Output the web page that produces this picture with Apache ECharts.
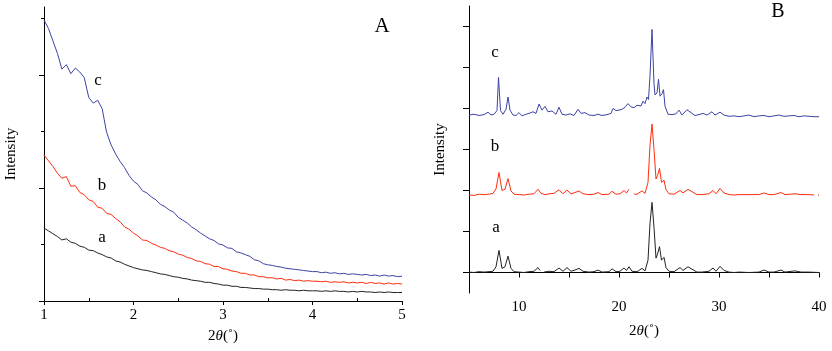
<!DOCTYPE html>
<html>
<head>
<meta charset="utf-8" />
<title>SAXS / XRD patterns</title>
<script src="https://cdn.jsdelivr.net/npm/echarts@6/dist/echarts.min.js"></script>
<style>
  html, body { margin: 0; padding: 0; background: #fff; }
  #main { width: 832px; height: 351px; }
</style>
</head>
<body>
<div id="main"></div>
<script>
// ---- panel A: low angle, 2theta 1..5 ----
const twoThetaA = [
  1.00,1.05,1.10,1.15,1.20,1.25,1.30,1.35,1.40,1.45,
  1.50,1.55,1.60,1.65,1.70,1.75,1.80,1.85,1.90,1.95,
  2.00,2.05,2.10,2.15,2.20,2.25,2.30,2.35,2.40,2.45,
  2.50,2.55,2.60,2.65,2.70,2.75,2.80,2.85,2.90,2.95,
  3.00,3.05,3.10,3.15,3.20,3.25,3.30,3.35,3.40,3.45,
  3.50,3.55,3.60,3.65,3.70,3.75,3.80,3.85,3.90,3.95,
  4.00,4.05,4.10,4.15,4.20,4.25,4.30,4.35,4.40,4.45,
  4.50,4.55,4.60,4.65,4.70,4.75,4.80,4.85,4.90,4.95,5.00
];
const lowA = [
  1.29,1.24,1.19,1.14,1.08,1.10,1.04,1.02,0.97,0.95,
  0.90,0.89,0.85,0.82,0.78,0.76,0.71,0.69,0.65,0.62,
  0.59,0.57,0.55,0.54,0.52,0.50,0.48,0.47,0.45,0.43,
  0.42,0.40,0.39,0.37,0.36,0.35,0.33,0.33,0.31,0.30,
  0.28,0.28,0.26,0.26,0.24,0.24,0.23,0.22,0.22,0.21,
  0.21,0.20,0.20,0.19,0.20,0.19,0.19,0.18,0.19,0.18,
  0.18,0.18,0.17,0.18,0.17,0.18,0.17,0.17,0.16,0.17,
  0.16,0.17,0.16,0.16,0.15,0.16,0.15,0.16,0.15,0.15,0.15
];
const lowB = [
  2.58,2.48,2.38,2.26,2.17,2.20,2.03,2.04,1.92,1.88,
  1.79,1.76,1.66,1.64,1.55,1.53,1.46,1.40,1.31,1.27,
  1.20,1.15,1.08,1.07,1.02,0.99,0.95,0.93,0.89,0.87,
  0.83,0.81,0.77,0.75,0.71,0.70,0.66,0.65,0.61,0.61,
  0.57,0.56,0.53,0.52,0.49,0.49,0.46,0.46,0.43,0.43,
  0.41,0.41,0.39,0.40,0.37,0.38,0.36,0.37,0.35,0.36,
  0.35,0.35,0.34,0.35,0.33,0.34,0.33,0.34,0.32,0.33,
  0.32,0.33,0.31,0.33,0.31,0.32,0.30,0.32,0.30,0.31,0.30
];
const lowC = [
  4.97,4.82,4.60,4.38,4.10,4.18,4.02,4.12,4.05,3.95,
  3.60,3.50,3.55,3.40,2.98,2.76,2.60,2.47,2.36,2.22,
  2.12,2.06,1.95,1.91,1.84,1.79,1.71,1.67,1.61,1.57,
  1.48,1.43,1.38,1.31,1.26,1.20,1.15,1.10,1.07,1.01,
  0.99,0.94,0.93,0.87,0.85,0.82,0.79,0.73,0.71,0.66,
  0.64,0.63,0.61,0.60,0.58,0.57,0.56,0.55,0.54,0.53,
  0.52,0.52,0.50,0.51,0.49,0.50,0.48,0.49,0.47,0.48,
  0.47,0.46,0.47,0.45,0.46,0.44,0.46,0.44,0.45,0.43,0.44
];

// ---- panel B: wide angle, [2theta, intensity] ('-' = gap in the trace) ----
const wideA = [
  [5.0,0.01],[5.5,0.00],[6.0,0.02],[6.5,0.01],[7.0,0.02],[7.4,0.03],[7.7,0.14],[8.0,0.54],[8.3,0.10],
  [8.6,0.14],[8.9,0.40],[9.2,0.10],[9.5,0.02],[10.0,0.01],[10.5,0.00],[11.0,0.02],[11.5,0.03],
  [11.9,0.12],[12.1,0.05],[12.3,'-'],[12.5,0.01],[13.0,0.03],[13.5,0.02],[14.0,0.11],[14.4,0.03],
  [14.8,0.12],[15.2,0.03],[15.6,0.06],[16.0,0.10],[16.4,0.03],[17.0,0.01],[17.5,0.02],[17.9,0.06],
  [18.3,0.01],[19.0,0.02],[19.3,0.09],[19.7,0.02],[20.1,0.03],[20.5,0.11],[20.75,0.05],[21.0,0.14],
  [21.3,0.03],[21.8,0.02],[22.3,0.10],[22.6,0.04],[22.9,0.30],[23.1,1.20],[23.3,1.71],[23.5,1.10],
  [23.7,0.35],[23.85,0.45],[24.05,0.63],[24.25,0.30],[24.5,0.37],[24.7,0.12],[25.0,0.03],[25.5,0.02],
  [26.1,0.12],[26.4,0.05],[26.9,0.14],[27.3,0.08],[27.8,0.01],[28.3,0.01],[29.0,0.03],[29.4,0.11],
  [29.7,0.03],[30.1,0.15],[30.5,0.05],[31.0,0.01],[31.5,0.00],[32.0,0.01],[33.0,0.00],[34.0,0.01],
  [34.5,0.06],[35.0,0.01],[35.5,0.01],[36.2,0.06],[36.6,0.01],[37.6,0.04],[38.2,0.01],[39.0,0.01],
  [40.0,0.00]
];
const wideB = [
  [5.0,1.89],[5.5,1.88],[6.0,1.91],[6.5,1.90],[7.0,1.91],[7.4,1.93],[7.7,2.04],[8.0,2.44],[8.3,2.00],
  [8.6,2.03],[8.9,2.29],[9.2,1.99],[9.5,1.91],[10.0,1.90],[10.5,1.89],[11.0,1.91],[11.5,1.92],
  [11.9,2.03],[12.2,1.93],[12.6,1.90],[13.0,1.92],[13.5,1.93],[14.0,2.02],[14.4,1.92],
  [14.8,2.01],[15.2,1.92],[15.6,1.95],[16.0,1.99],[16.4,1.92],[17.0,1.90],[17.5,1.91],[17.9,1.95],
  [18.3,1.90],[19.0,1.91],[19.3,1.98],[19.7,1.91],[20.1,1.92],[20.5,2.00],[20.75,1.94],[21.0,2.03],
  [21.2,'-'],[21.5,1.91],[21.8,1.91],[22.3,1.99],[22.6,1.93],[22.9,2.20],[23.1,3.10],[23.3,3.62],[23.5,3.00],
  [23.7,2.28],[23.85,2.36],[24.05,2.54],[24.25,2.20],[24.5,2.25],[24.7,2.02],[25.0,1.92],[25.5,1.91],
  [26.1,2.00],[26.4,1.94],[26.9,2.03],[27.3,1.97],[27.8,1.90],[28.3,1.90],[29.0,1.92],[29.4,2.00],
  [29.7,1.92],[30.1,2.05],[30.5,1.94],[31.0,1.90],[31.5,1.89],[32.0,1.90],[33.0,1.90],[34.0,1.90],
  [34.5,1.94],[35.0,1.90],[35.5,1.90],[36.2,1.95],[36.6,1.90],[37.6,1.92],[38.2,1.90],[39.0,1.90],
  [39.5,1.89],[39.7,'-'],[39.9,1.89],[40.0,1.89]
];
const wideC = [
  [5.0,3.84],[5.5,3.86],[6.0,3.83],[6.5,3.85],[6.9,3.91],[7.2,3.84],[7.5,3.86],[7.8,3.95],[7.95,4.76],
  [8.15,3.95],[8.4,3.86],[8.7,3.98],[8.9,4.28],[9.1,3.96],[9.4,3.84],[9.7,3.83],[10.0,3.90],[10.3,3.82],
  [10.7,3.86],[11.0,3.88],[11.4,3.92],[11.7,3.88],[12.0,4.11],[12.3,3.96],[12.6,4.05],[12.9,3.92],
  [13.3,3.94],[13.7,3.86],[14.0,4.03],[14.3,3.86],[14.7,3.84],[15.1,3.87],[15.5,3.83],[15.9,3.98],
  [16.2,3.88],[16.6,3.90],[17.0,3.84],[17.5,3.83],[17.9,3.86],[18.3,3.83],[18.8,3.85],[19.2,3.88],
  [19.4,4.00],[19.7,3.95],[20.0,3.96],[20.3,3.98],[20.6,4.03],[20.9,4.12],[21.2,4.04],[21.5,4.02],
  [21.8,4.08],[22.0,4.12],[22.2,4.06],[22.4,4.18],[22.6,4.12],[22.8,4.28],[22.95,4.22],[23.1,4.80],
  [23.3,5.93],[23.5,4.60],[23.6,4.33],[23.8,4.38],[23.95,4.71],[24.1,4.30],[24.3,4.36],[24.45,4.46],
  [24.6,4.06],[24.9,3.86],[25.3,3.85],[25.7,3.87],[26.0,3.96],[26.3,3.84],[26.8,3.97],[27.2,3.90],
  [27.6,3.83],[28.0,3.85],[28.4,3.88],[28.8,3.84],[29.3,3.92],[29.6,3.84],[30.1,3.91],[30.5,3.84],
  [31.0,3.81],[31.5,3.82],[32.0,3.80],[32.5,3.82],[33.0,3.84],[33.5,3.80],[34.0,3.82],[34.5,3.83],
  [35.0,3.80],[35.5,3.82],[36.0,3.84],[36.5,3.81],[37.0,3.82],[37.5,3.83],[38.0,3.80],[38.5,3.82],
  [39.0,3.81],[39.5,3.80],[40.0,3.80]
];

const tickMajorA = [0, 2, 4];
const tickMinorA = [1, 3, 5];
const tickMinorXA = [1.5, 2.5, 3.5, 4.5];
const tickMajorB = [0, 2, 4, 6];
const tickMinorB = [1, 3, 5];

const BLACK = '#222222';
const RED = '#ff2d0e';
const BLUE = '#3b44a3';
const FONT = '"Liberation Serif", "Times New Roman", serif';

const zip = (xs, ys) => xs.map((x, i) => [x, ys[i]]);

const axisText = { color: '#000', fontFamily: FONT, fontSize: 15 };
const thetaName = {
  name: '2{i|θ}(˚)',
  nameLocation: 'middle',
  nameTextStyle: {
    color: '#000', fontFamily: FONT, fontSize: 15,
    rich: { i: { fontStyle: 'italic', fontFamily: FONT, fontSize: 15, color: '#000' } }
  }
};
const line = { show: true, lineStyle: { color: '#000', width: 1 } };

const myChart = echarts.init(document.getElementById('main'), null, { renderer: 'canvas' });

const lineSeries = (data, color, idx) => ({
  type: 'line',
  data,
  xAxisIndex: idx,
  yAxisIndex: idx * 2,
  showSymbol: false,
  symbol: 'none',
  lineStyle: { color, width: 1 },
  connectNulls: false,
  silent: true,
  z: 3
});

const option = {
  animation: false,
  backgroundColor: '#fff',
  grid: [
    { left: 44, top: 7, width: 358, height: 294 },
    { left: 469, top: 6, width: 350, height: 287 }
  ],
  xAxis: [
    Object.assign({
      gridIndex: 0, type: 'value', min: 1, max: 5, interval: 1,
      nameGap: 28,
      axisLine: line,
      axisTick: { show: true, length: 4, lineStyle: { color: '#000' } },
      axisLabel: Object.assign({ margin: 7 }, axisText),
      splitLine: { show: false }
    }, thetaName),
    Object.assign({
      gridIndex: 1, type: 'value', min: 5, max: 40, interval: 5,
      nameGap: 31,
      axisLine: line,
      axisTick: { show: true, length: 5, lineStyle: { color: '#000' } },
      axisLabel: Object.assign({ margin: 7, formatter: v => (v % 10 === 0 ? String(v) : '') }, axisText),
      splitLine: { show: false }
    }, thetaName),
    {
      // inner minor ticks of panel A
      gridIndex: 0, type: 'value', min: 1, max: 5, position: 'bottom',
      axisLine: { show: false },
      axisTick: { show: true, inside: true, length: 3, customValues: tickMinorXA, lineStyle: { color: '#000' } },
      axisLabel: { show: false },
      splitLine: { show: false }
    }
  ],
  yAxis: [
    {
      gridIndex: 0, type: 'value', min: 0, max: 5.2, position: 'left',
      name: 'Intensity', nameLocation: 'middle', nameGap: 25,
      nameTextStyle: axisText,
      axisLine: line,
      axisTick: { show: true, length: 5, customValues: tickMajorA, lineStyle: { color: '#000' } },
      axisLabel: { show: false },
      splitLine: { show: false }
    },
    {
      gridIndex: 0, type: 'value', min: 0, max: 5.2, position: 'left',
      axisLine: { show: false },
      axisTick: { show: true, length: 3, customValues: tickMinorA, lineStyle: { color: '#000' } },
      axisLabel: { show: false },
      splitLine: { show: false }
    },
    {
      gridIndex: 1, type: 'value', min: -0.5, max: 6.5, position: 'left',
      name: 'Intensity', nameLocation: 'middle', nameGap: 21,
      nameTextStyle: axisText,
      axisLine: line,
      axisTick: { show: true, length: 6, customValues: tickMajorB, lineStyle: { color: '#000' } },
      axisLabel: { show: false },
      splitLine: { show: false }
    },
    {
      gridIndex: 1, type: 'value', min: -0.5, max: 6.5, position: 'left',
      axisLine: { show: false },
      axisTick: { show: true, length: 6, customValues: tickMinorB, lineStyle: { color: '#000' } },
      axisLabel: { show: false },
      splitLine: { show: false }
    }
  ],
  series: [
    lineSeries(zip(twoThetaA, lowA), BLACK, 0),
    lineSeries(zip(twoThetaA, lowB), RED, 0),
    lineSeries(zip(twoThetaA, lowC), BLUE, 0),
    lineSeries(wideA, BLACK, 1),
    lineSeries(wideB, RED, 1),
    lineSeries(wideC, BLUE, 1)
  ],
  graphic: [
    ['A', 382, 26, 21], ['a', 102, 238, 17], ['b', 102, 186, 17], ['c', 98, 81, 17],
    ['B', 778, 12, 20], ['a', 496, 228, 17], ['b', 495, 147, 17], ['c', 495, 53, 17]
  ].map(([t, x, y, s]) => ({
    type: 'text', x, y, silent: true,
    style: { text: t, fill: '#000', font: s + 'px ' + FONT, textAlign: 'center', textVerticalAlign: 'middle' }
  }))
};
myChart.setOption(option);
</script>
</body>
</html>
